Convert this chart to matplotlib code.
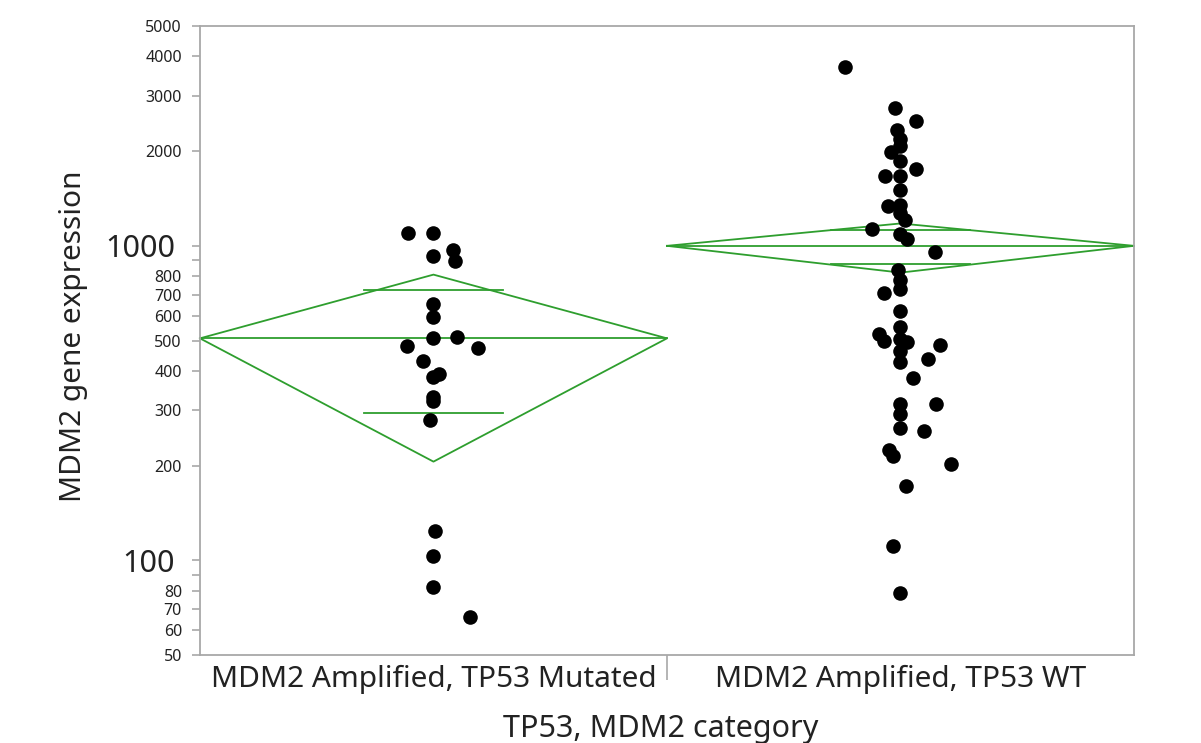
import matplotlib
matplotlib.use('Agg')
import matplotlib.pyplot as plt
import matplotlib.transforms as mtransforms
import numpy as np
from matplotlib.ticker import FixedLocator

plt.rcParams['font.family'] = ['Noto Sans', 'DejaVu Sans']

# categories on the x axis
categories = ['MDM2 Amplified, TP53 Mutated', 'MDM2 Amplified, TP53 WT']

# MDM2 expression, TP53 mutated group
mutated_expr = [1096, 1101, 929, 969, 896, 655, 593, 509, 512, 480, 474,
                429, 382, 391, 330, 320, 279, 124, 103, 82.5, 66]
# horizontal jitter of each dot, as a fraction of the category width
mutated_jitter = [-0.054, 0, 0, 0.041, 0.046, 0, 0, 0, 0.051, -0.056, 0.096,
                  -0.023, 0, 0.012, 0, 0, -0.007, 0.003, 0, 0, 0.078]

# MDM2 expression, TP53 wild type group
wt_expr = [3710, 2740, 2500, 2330, 2180, 2080, 1990, 1860, 1760, 1670, 1665,
           1500, 1340, 1350, 1270, 1210, 1130, 1090, 1050, 957, 837, 778,
           707, 727, 622, 551, 523, 500, 504, 496, 463, 428, 485, 436, 381,
           314, 293, 264, 314, 257, 225, 215, 202, 172, 111, 79]
wt_jitter = [-0.118, -0.012, 0.033, -0.007, 0, 0, -0.020, 0, 0.034, -0.033, 0,
             0, -0.027, 0, 0, 0.010, -0.060, 0, 0.015, 0.073, -0.006, 0,
             -0.035, 0, 0, 0, -0.045, -0.036, 0, 0.014, 0, 0, 0.085, 0.059,
             0.027, 0, 0, 0, 0.076, 0.051, -0.024, -0.017, 0.108, 0.012,
             -0.017, 0]

# means diamonds: group mean and 95% CI half-width
diamond_mean = [508, 1000]
diamond_ci = [302, 178]

# y axis ticks
ytick_values = [50, 60, 70, 80, 90, 100, 200, 300, 400, 500, 600, 700, 800,
                900, 1000, 2000, 3000, 4000, 5000]
ytick_labels = ['50', '60', '70', '80', '', '100', '200', '300', '400', '500',
                '600', '700', '800', '', '1000', '2000', '3000', '4000', '5000']
big_labels = ['100', '1000']

green = '#2e9e2e'
grey = '#a8a8a8'
text_color = '#222222'

fig = plt.figure(figsize=(12.01, 7.43), dpi=100)
ax = fig.add_axes([0.1665, 0.1184, 0.7777, 0.8466])

# diamonds
for i, (m, ci) in enumerate(zip(diamond_mean, diamond_ci)):
    ax.plot([i - 0.5, i, i + 0.5, i, i - 0.5], [m, m + ci, m, m - ci, m],
            color=green, lw=1.3, clip_on=False, zorder=2)
    ax.plot([i - 0.5, i + 0.5], [m, m], color=green, lw=1.3, clip_on=False, zorder=2)
    ov = ci / np.sqrt(2)
    for y in (m + ov, m - ov):
        ax.plot([i - 0.148, i + 0.148], [y, y], color=green, lw=1.3, zorder=2)

# points
groups = [(mutated_expr, mutated_jitter), (wt_expr, wt_jitter)]
for i, (vals, jit) in enumerate(groups):
    ax.plot(i + np.array(jit), vals, 'o', color='black', ms=10.5, mew=0, zorder=3)

ax.set_yscale('log')
ax.set_ylim(50, 5000)
ax.set_xlim(-0.5, 1.5)

ax.yaxis.set_major_locator(FixedLocator(ytick_values))
ax.yaxis.set_minor_locator(FixedLocator([]))
ax.tick_params(axis='y', which='major', direction='out', length=6, width=1.2,
               color=grey, pad=7)
ax.set_yticklabels(ytick_labels)
shift = mtransforms.ScaledTranslation(-7 / 100, 0, fig.dpi_scale_trans)
for lab in ax.get_yticklabels():
    if lab.get_text() in big_labels:
        lab.set_fontsize(22)
        lab.set_transform(lab.get_transform() + shift)
    else:
        lab.set_fontsize(11.5)
    lab.set_color(text_color)

ax.set_xticks([0, 1])
ax.set_xticklabels(categories, fontsize=21.5, color=text_color)
ax.set_xticks([0.5], minor=True)
ax.tick_params(axis='x', which='major', length=0, pad=7)
ax.tick_params(axis='x', which='minor', length=18, width=1.2, color=grey)

for sp in ax.spines.values():
    sp.set_color(grey)
    sp.set_linewidth(1.3)

ax.set_ylabel('MDM2 gene expression', fontsize=21.5, color=text_color)
ax.yaxis.set_label_coords(-0.12, 0.507)
ax.set_xlabel('TP53, MDM2 category', fontsize=22, color=text_color)
ax.xaxis.set_label_coords(0.493, -0.093)

fig.savefig('out.png', dpi=100)
